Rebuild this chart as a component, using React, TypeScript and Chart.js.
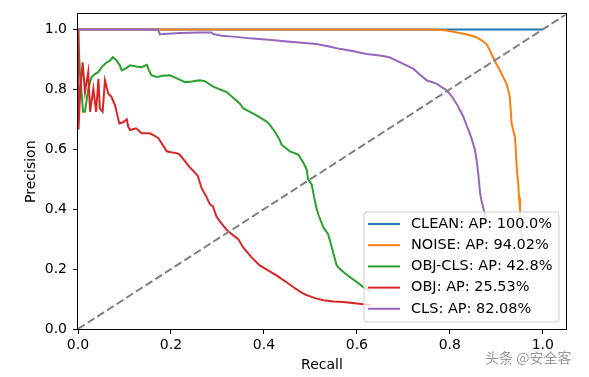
import React, { useEffect, useRef } from "react";
import { Chart, registerables } from "chart.js";

Chart.register(...registerables);

// ---- data ----
const seriesLabels = [
  "CLEAN: AP: 100.0%",
  "NOISE: AP: 94.02%",
  "OBJ-CLS: AP: 42.8%",
  "OBJ: AP: 25.53%",
  "CLS: AP: 82.08%",
];
const seriesColors = ["#1f77b4", "#ff7f0e", "#2ca02c", "#d62728", "#9467bd"];

const xTicks = [0, 0.2, 0.4, 0.6, 0.8, 1.0];
const yTicks = [0, 0.2, 0.4, 0.6, 0.8, 1.0];

const cleanRecall = [0, 1.0];
const cleanPrecision = [1.0, 1.0];

const noiseRecall = [0, 0.757, 0.79, 0.814, 0.84, 0.857, 0.87, 0.879, 0.886, 0.893, 0.9, 0.908, 0.915, 0.922, 0.926, 0.929, 0.931, 0.933, 0.937, 0.94, 0.942, 0.943, 0.945, 0.947, 0.949, 0.951, 0.953, 0.955];
const noisePrecision = [1.0, 1.0, 0.997, 0.99, 0.982, 0.974, 0.962, 0.951, 0.93, 0.907, 0.885, 0.863, 0.84, 0.819, 0.795, 0.775, 0.73, 0.686, 0.66, 0.642, 0.6, 0.565, 0.52, 0.488, 0.44, 0.4, 0.35, 0.3];

const objClsRecall = [0, 0.004, 0.011, 0.015, 0.022, 0.029, 0.036, 0.044, 0.051, 0.062, 0.068, 0.075, 0.082, 0.09, 0.094, 0.103, 0.112, 0.125, 0.137, 0.148, 0.153, 0.158, 0.169, 0.183, 0.198, 0.215, 0.23, 0.245, 0.262, 0.273, 0.29, 0.305, 0.32, 0.335, 0.348, 0.356, 0.37, 0.385, 0.406, 0.413, 0.425, 0.434, 0.438, 0.456, 0.474, 0.485, 0.492, 0.495, 0.503, 0.508, 0.513, 0.517, 0.528, 0.538, 0.546, 0.556, 0.56, 0.575, 0.585, 0.6, 0.614, 0.63];
const objClsPrecision = [1.0, 0.86, 0.725, 0.725, 0.8, 0.841, 0.85, 0.858, 0.874, 0.89, 0.895, 0.907, 0.898, 0.88, 0.863, 0.87, 0.88, 0.876, 0.874, 0.882, 0.862, 0.847, 0.841, 0.845, 0.847, 0.835, 0.824, 0.826, 0.83, 0.827, 0.81, 0.8, 0.791, 0.77, 0.753, 0.736, 0.725, 0.712, 0.692, 0.681, 0.655, 0.631, 0.615, 0.593, 0.582, 0.555, 0.532, 0.5, 0.482, 0.44, 0.405, 0.383, 0.339, 0.317, 0.273, 0.215, 0.205, 0.185, 0.173, 0.157, 0.14, 0.125];

const objRecall = [0, 0.001, 0.005, 0.01, 0.015, 0.022, 0.026, 0.033, 0.039, 0.044, 0.047, 0.053, 0.058, 0.065, 0.069, 0.072, 0.08, 0.087, 0.089, 0.097, 0.105, 0.108, 0.112, 0.125, 0.137, 0.155, 0.165, 0.173, 0.182, 0.191, 0.2, 0.212, 0.219, 0.23, 0.24, 0.25, 0.258, 0.266, 0.275, 0.284, 0.29, 0.298, 0.305, 0.32, 0.332, 0.345, 0.355, 0.373, 0.391, 0.41, 0.427, 0.445, 0.463, 0.48, 0.492, 0.51, 0.528, 0.55, 0.571, 0.595, 0.614, 0.63];
const objPrecision = [1.0, 0.666, 0.8, 0.89, 0.79, 0.858, 0.725, 0.802, 0.725, 0.835, 0.736, 0.725, 0.83, 0.786, 0.78, 0.775, 0.745, 0.698, 0.686, 0.69, 0.7, 0.675, 0.664, 0.67, 0.653, 0.653, 0.645, 0.637, 0.615, 0.593, 0.59, 0.587, 0.582, 0.56, 0.54, 0.525, 0.51, 0.47, 0.445, 0.416, 0.41, 0.375, 0.36, 0.33, 0.315, 0.3, 0.273, 0.24, 0.212, 0.195, 0.179, 0.16, 0.14, 0.122, 0.113, 0.103, 0.096, 0.092, 0.09, 0.086, 0.083, 0.08];

const clsRecall = [0, 0.172, 0.176, 0.22, 0.26, 0.287, 0.29, 0.309, 0.34, 0.37, 0.41, 0.456, 0.513, 0.54, 0.563, 0.59, 0.621, 0.649, 0.67, 0.685, 0.7, 0.721, 0.735, 0.75, 0.771, 0.793, 0.805, 0.814, 0.822, 0.829, 0.836, 0.843, 0.849, 0.854, 0.858, 0.861, 0.863, 0.865, 0.868, 0.872, 0.876, 0.88];
const clsPrecision = [1.0, 1.0, 0.984, 0.988, 0.99, 0.99, 0.985, 0.979, 0.975, 0.97, 0.965, 0.959, 0.951, 0.943, 0.935, 0.928, 0.918, 0.913, 0.907, 0.896, 0.885, 0.869, 0.85, 0.83, 0.819, 0.797, 0.775, 0.753, 0.73, 0.709, 0.68, 0.653, 0.625, 0.598, 0.56, 0.521, 0.49, 0.455, 0.43, 0.405, 0.38, 0.35];

const diagonalX = [0, 1.05];
const diagonalY = [0, 1.05];

const seriesRecall = [cleanRecall, noiseRecall, objClsRecall, objRecall, clsRecall];
const seriesPrecision = [cleanPrecision, noisePrecision, objClsPrecision, objPrecision, clsPrecision];

const FONT = "'DejaVu Sans', sans-serif";

function toPoints(xs: number[], ys: number[]) {
  return xs.map((x, i) => ({ x, y: ys[i] }));
}

const framePlugin = {
  id: "frameAndLegend",
  afterDatasetsDraw(chart: any) {
    const { ctx, chartArea } = chart;
    const { left, right, top, bottom } = chartArea;
    ctx.save();
    // frame
    ctx.strokeStyle = "#000";
    ctx.lineWidth = 1;
    ctx.strokeRect(Math.round(left) - 0.5, Math.round(top) - 0.5, Math.round(right - left) + 1, Math.round(bottom - top) + 1);

    // legend box
    const bw = 195;
    const bh = 110;
    const bx = right - 7 - bw;
    const by = bottom - 7 - bh;
    const r = 3;
    ctx.beginPath();
    ctx.moveTo(bx + r, by);
    ctx.lineTo(bx + bw - r, by);
    ctx.arcTo(bx + bw, by, bx + bw, by + r, r);
    ctx.lineTo(bx + bw, by + bh - r);
    ctx.arcTo(bx + bw, by + bh, bx + bw - r, by + bh, r);
    ctx.lineTo(bx + r, by + bh);
    ctx.arcTo(bx, by + bh, bx, by + bh - r, r);
    ctx.lineTo(bx, by + r);
    ctx.arcTo(bx, by, bx + r, by, r);
    ctx.closePath();
    ctx.fillStyle = "rgba(255,255,255,0.8)";
    ctx.fill();
    ctx.strokeStyle = "#cccccc";
    ctx.lineWidth = 1;
    ctx.stroke();

    ctx.font = "14.5px " + FONT;
    ctx.textBaseline = "middle";
    ctx.textAlign = "left";
    const rowH = 21.2;
    const y0 = by + 12;
    for (let i = 0; i < seriesLabels.length; i++) {
      const yy = y0 + i * rowH;
      ctx.strokeStyle = seriesColors[i];
      ctx.lineWidth = 2;
      ctx.beginPath();
      ctx.moveTo(bx + 4, yy);
      ctx.lineTo(bx + 36, yy);
      ctx.stroke();
      ctx.fillStyle = "#000";
      ctx.fillText(seriesLabels[i], bx + 47, yy);
    }
    ctx.restore();
  },
  afterDraw(chart: any) {
    const { ctx } = chart;
    ctx.save();
    ctx.font = "14px 'Noto Sans CJK SC', sans-serif";
    ctx.textBaseline = "middle";
    ctx.textAlign = "left";
    ctx.lineWidth = 3;
    ctx.strokeStyle = "rgba(255,255,255,0.9)";
    ctx.strokeText("头条 @安全客", 485, 358);
    ctx.fillStyle = "#9a9a9a";
    ctx.fillText("头条 @安全客", 485, 358);
    ctx.restore();
  },
};

export default function App() {
  const ref = useRef<HTMLCanvasElement>(null);
  useEffect(() => {
    document.body.style.margin = "0";
    const canvas = ref.current;
    if (!canvas) return;
    const datasets: any[] = seriesLabels.map((label, i) => ({
      label,
      data: toPoints(seriesRecall[i], seriesPrecision[i]),
      borderColor: seriesColors[i],
      backgroundColor: seriesColors[i],
      borderWidth: 2,
      pointRadius: 0,
      tension: 0,
      fill: false,
      order: 5 - i,
    }));
    datasets.push({
      label: "diagonal",
      data: toPoints(diagonalX, diagonalY),
      borderColor: "#808080",
      borderWidth: 2,
      borderDash: [8, 3.5],
      pointRadius: 0,
      fill: false,
      order: -1,
    });
    const chart = new Chart(canvas, {
      type: "line",
      data: { datasets },
      options: {
        animation: false,
        responsive: false,
        maintainAspectRatio: false,
        layout: { padding: { left: 0, right: 23, top: 12, bottom: 0 } },
        plugins: { legend: { display: false }, tooltip: { enabled: false } },
        scales: {
          x: {
            type: "linear",
            min: 0,
            max: 1.05,
            afterFit: (s: any) => { s.height = 48; },
            afterBuildTicks: (s: any) => { s.ticks = xTicks.map((v) => ({ value: v })); },
            ticks: {
              color: "#000",
              font: { family: FONT, size: 14 },
              padding: 3,
              maxRotation: 0,
              callback: (v: any) => Number(v).toFixed(1),
            },
            grid: { drawOnChartArea: false, drawTicks: true, tickLength: 5, color: "#000" },
            border: { display: false },
            title: { display: true, text: "Recall", color: "#000", font: { family: FONT, size: 14 }, padding: { top: 0, bottom: 3.6 } },
          },
          y: {
            type: "linear",
            min: 0,
            max: 1.05,
            afterFit: (s: any) => { s.width = 78; },
            afterBuildTicks: (s: any) => { s.ticks = yTicks.map((v) => ({ value: v })); },
            ticks: {
              color: "#000",
              font: { family: FONT, size: 14 },
              padding: 6,
              callback: (v: any) => Number(v).toFixed(1),
            },
            grid: { drawOnChartArea: false, drawTicks: true, tickLength: 5, color: "#000" },
            border: { display: false },
            title: { display: true, text: "Precision", color: "#000", font: { family: FONT, size: 14 }, padding: { top: 23, bottom: 0 } },
          },
        },
      },
      plugins: [framePlugin],
    } as any);
    return () => chart.destroy();
  }, []);
  return (
    <div style={{ width: 589, height: 377, position: "relative" }}>
      <canvas ref={ref} width={589} height={377} style={{ display: "block", width: 589, height: 377 }} />
    </div>
  );
}
